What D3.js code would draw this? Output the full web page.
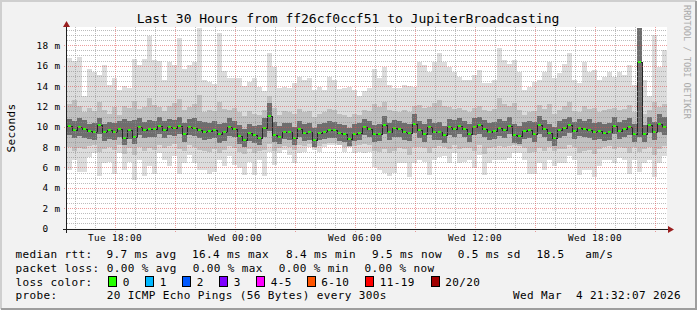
<!DOCTYPE html>
<html>
<head>
<meta charset="utf-8">
<script src="https://cdn.jsdelivr.net/npm/d3@7"></script>
<style>
body { margin: 0; background: #f2f2f2; }
svg { display: block; font-family: "DejaVu Sans Mono", monospace; }
text { white-space: pre; }
</style>
</head>
<body>
<script>
// 120 samples, 15 min apart, starting Tue 15:36 (values in ms)
var startTime = new Date(2026, 2, 3, 15, 36);
var stepMinutes = 15;

var maxRtt = [16.8,16.5,16.9,13.0,15.7,15.4,15.1,16.1,14.1,14.8, 13.6,14.0,13.8,16.7,16.1,16.7,18.9,16.6,16.5,14.6,
  16.4,16.1,18.7,15.7,16.1,16.4,19.7,14.6,14.4,14.2, 19.2,15.5,14.8,14.8,14.8,14.0,14.4,14.8,13.9,13.5,
  17.2,15.9,13.8,13.9,13.8,14.3,14.9,14.6,14.8,13.6, 13.9,13.6,14.9,14.6,13.7,13.8,13.9,13.6,13.0,13.5,
  13.8,15.7,14.8,15.9,14.1,13.8,13.8,14.1,14.0,13.9, 16.4,16.1,15.4,16.4,17.2,16.4,15.9,15.4,14.9,14.6,
  14.6,15.1,15.6,14.3,14.3,14.6,17.7,16.6,16.2,16.6, 15.4,13.6,13.9,14.4,14.6,15.4,16.4,14.8,15.3,16.2,
  17.2,14.6,14.3,16.4,15.4,15.6,14.6,14.9,15.4,14.9, 15.4,15.1,16.1,14.1,19.7,14.6,13.0,19.0,15.9,17.5];

var highQ = [12.2,12.6,12.0,11.4,11.8,11.5,12.4,11.6,11.3,11.9, 11.2,12.0,11.8,12.5,11.7,11.9,12.8,12.1,11.9,11.5,
  12.0,12.3,12.7,11.6,11.9,12.2,13.1,11.4,11.6,11.5, 12.4,11.7,11.6,11.8,11.4,11.1,11.5,11.3,11.2,11.6,
  13.0,11.8,11.2,11.5,11.4,11.3,11.7,11.4,11.5,11.0, 11.3,11.4,11.7,11.6,11.3,11.2,11.0,11.3,11.2,11.6,
  11.5,12.2,11.9,12.4,11.6,11.5,11.4,11.6,11.4,12.0, 12.1,11.8,11.9,12.3,12.6,12.0,11.9,11.7,11.8,11.6,
  11.4,11.8,12.0,11.6,11.5,11.7,12.8,12.2,12.0,12.3, 11.6,11.2,11.4,11.5,12.1,11.7,12.2,11.3,11.6,12.0,
  12.4,11.5,11.4,12.0,11.7,11.8,11.4,11.6,11.7,11.8, 11.6,11.7,12.1,11.4,19.7,11.3,11.6,12.4,11.9,12.2];

var highCore = [10.8,10.6,10.9,10.7,10.3,10.4,10.9,10.3,10.5,10.4, 10.6,10.8,10.6,10.7,10.9,10.5,10.7,10.6,11.0,10.6,
  10.8,10.7,11.0,10.4,10.8,10.9,10.6,10.5,10.4,10.6, 10.3,10.4,10.9,10.6,10.2,9.8,10.3,10.1,10.2,10.9,
  12.3,10.5,10.1,10.4,10.4,10.0,10.6,10.3,10.4,9.9, 10.3,10.4,10.6,10.5,10.3,10.2,9.9,10.3,10.4,10.8,
  10.6,10.2,10.3,11.1,10.4,10.7,10.6,10.4,10.3,11.3, 10.6,10.3,10.8,10.4,10.5,10.1,10.8,10.7,10.9,10.6,
  10.3,10.9,11.0,10.7,10.4,10.5,10.8,10.6,11.0,10.3, 10.1,10.5,10.6,10.5,11.1,10.7,10.3,10.0,10.6,10.8,
  11.0,10.5,10.8,10.6,10.8,10.4,10.5,10.3,10.4,11.0, 10.5,10.7,10.9,10.3,19.7,10.2,11.0,10.5,11.3,11.0];

var medianRtt = [10.1,9.7,10.0,9.8,9.6,9.5,10.2,9.5,9.7,9.5, 9.8,8.9,9.7,9.0,10.0,9.7,9.8,9.8,10.1,9.7,
  10.0,9.9,10.1,9.3,10.0,9.9,9.7,9.5,9.6,9.7, 9.3,9.5,10.0,9.8,9.1,8.7,9.4,9.2,8.9,9.9,
  11.1,9.2,9.0,9.5,9.5,8.9,9.8,9.4,9.5,8.7, 9.4,9.5,9.7,9.7,9.4,9.3,8.8,9.3,9.4,10.0,
  9.8,9.3,9.3,10.2,9.5,9.9,9.8,9.5,9.4,10.3, 9.7,9.3,10.0,9.5,9.5,9.2,10.0,9.8,10.1,9.8,
  9.3,10.0,10.2,9.8,9.5,9.6,9.9,9.7,10.1,9.2, 9.1,9.6,9.7,9.3,10.2,9.8,9.4,8.9,9.7,9.9,
  10.2,9.6,9.9,9.8,9.7,9.5,9.6,9.4,9.5,10.1, 9.6,9.8,10.0,9.3,16.4,9.3,10.2,9.5,10.3,10.0];

var lowCore = [9.2,8.9,9.1,8.9,8.8,8.7,9.3,8.6,8.8,8.7, 9.0,8.2,8.8,8.3,9.2,8.9,9.0,9.0,9.3,8.9,
  9.2,9.1,9.3,8.5,9.2,9.1,8.9,8.7,8.8,8.9, 8.4,8.6,9.1,9.0,8.3,8.0,8.6,8.4,8.2,9.0,
  9.6,8.5,8.3,8.8,8.7,8.2,9.0,8.6,8.7,8.0, 8.7,8.8,8.9,8.9,8.6,8.5,8.1,8.6,8.7,9.2,
  9.0,8.5,8.6,9.3,8.7,9.0,9.0,8.7,8.6,9.4, 8.9,8.5,9.2,8.7,8.7,8.4,9.2,9.0,9.3,9.0,
  8.5,9.2,9.3,9.0,8.7,8.8,9.1,8.9,9.3,8.4, 8.3,8.8,8.9,8.5,9.3,9.0,8.6,8.1,8.9,9.1,
  9.4,8.8,9.1,9.0,8.9,8.7,8.8,8.6,8.7,9.3, 8.8,9.0,9.2,8.5,9.0,8.5,9.4,8.7,9.5,9.2];

var lowQ = [8.0,7.6,7.9,7.8,8.1,8.2,7.5,7.8,8.0,7.7, 8.2,7.3,7.9,7.2,8.0,7.6,7.9,7.7,8.2,7.9,
  8.1,8.3,7.8,7.6,8.2,8.0,7.7,7.6,7.5,7.8, 7.4,7.7,8.1,7.9,7.5,7.3,7.8,7.4,7.6,7.7,
  8.3,7.6,7.9,8.1,8.0,7.7,8.2,8.1,8.3,8.0, 8.1,8.3,8.4,8.4,8.2,8.0,8.0,8.1,8.2,8.3,
  8.2,7.6,7.5,7.8,7.4,7.6,7.9,7.8,7.2,8.0, 8.0,7.9,7.4,7.9,8.1,8.0,7.8,8.2,7.8,7.9,
  7.9,7.6,8.2,7.3,7.9,8.0,8.1,8.0,8.1,8.2, 8.1,7.9,7.4,7.5,7.9,7.6,8.0,7.6,7.8,7.8,
  8.2,8.0,7.4,7.6,7.7,7.3,7.8,8.0,8.1,7.8, 8.0,7.9,7.4,8.0,7.5,7.8,8.0,7.2,7.8,8.1];

var minRtt = [5.7,6.7,5.6,5.6,7.0,7.4,5.2,6.4,6.5,5.4, 7.4,5.7,6.5,4.8,6.7,5.2,6.1,5.4,7.4,6.7,
  6.1,7.1,5.4,6.4,7.2,6.4,5.7,5.7,5.4,5.6, 6.7,6.1,7.1,6.2,5.9,5.3,6.5,5.3,6.7,5.2,
  7.5,6.2,7.4,7.7,7.2,6.4,7.4,7.5,8.0,7.7, 7.5,8.0,8.2,8.2,8.2,7.5,8.2,7.4,7.5,7.4,
  7.5,6.0,5.7,5.5,5.2,5.5,6.4,6.4,5.1,6.4, 6.7,6.5,5.3,6.7,7.0,7.1,6.4,7.4,6.4,6.5,
  6.7,5.9,7.2,5.3,6.4,6.7,6.7,6.7,6.9,7.4, 7.4,6.7,5.4,5.4,6.4,5.7,6.7,6.1,6.4,6.4,
  7.1,6.7,5.3,5.7,5.7,5.1,6.1,6.7,6.7,6.4, 6.9,6.7,5.4,6.7,5.6,6.4,6.7,5.1,6.4,7.1];

var yMajorTicks = [0, 2, 4, 6, 8, 10, 12, 14, 16, 18];
var lossLabels = ["0", "1", "2", "3", "4-5", "6-10", "11-19", "20/20"];
var lossColors = ["#26ff00", "#00b8ff", "#0059ff", "#7e00ff", "#ff00ff", "#ff5500", "#ff0000", "#a10000"];
var lossBoxX = [108.5, 145.5, 182.5, 219.5, 256.5, 307, 365.5, 431];

var svgWidth = 697, svgHeight = 310;
var margin = {top: 27, right: 30, bottom: 81.5, left: 67};
var n = medianRtt.length;
var timeAt = function(i) { return d3.timeMinute.offset(startTime, i * stepMinutes); };

var svg = d3.select("body").append("svg").attr("width", svgWidth).attr("height", svgHeight);

// frame
svg.append("rect").attr("width", svgWidth).attr("height", svgHeight).attr("fill", "#f2f2f2");
svg.append("path").attr("d", "M1,309V1H696").attr("fill", "none").attr("stroke", "#cfcfcf").attr("stroke-width", 2);
svg.append("path").attr("d", "M1,309H696V1").attr("fill", "none").attr("stroke", "#9e9e9e").attr("stroke-width", 2);

var x = d3.scaleTime().domain([startTime, timeAt(n)]).range([margin.left, svgWidth - margin.right]);
var y = d3.scaleLinear().domain([0, 19.8]).range([svgHeight - margin.bottom, margin.top]);

// canvas
svg.append("rect").attr("x", x.range()[0]).attr("y", y.range()[1])
  .attr("width", x.range()[1] - x.range()[0]).attr("height", y.range()[0] - y.range()[1]).attr("fill", "#ffffff");

// smoke
var bands = [
  {lo: minRtt, hi: maxRtt, color: "#dcdcdc"},
  {lo: lowQ, hi: highQ, color: "#c0c0c0"},
  {lo: lowCore, hi: highCore, color: "#6e6e6e"}
];
var smoke = svg.append("g").attr("shape-rendering", "crispEdges");
bands.forEach(function(b) {
  smoke.selectAll(null).data(d3.range(n)).enter().append("rect")
    .attr("x", function(i) { return x(timeAt(i)); })
    .attr("width", function(i) { return x(timeAt(i + 1)) - x(timeAt(i)); })
    .attr("y", function(i) { return y(b.hi[i]); })
    .attr("height", function(i) { return y(b.lo[i]) - y(b.hi[i]); })
    .attr("fill", b.color);
});

// median
var medLine = d3.line()
  .x(function(i) { return x(timeAt(i)); })
  .y(function(i) { return Math.round(y(medianRtt[Math.min(i, n - 1)])) + 0.5; })
  .curve(d3.curveStepAfter);
svg.append("path").datum(d3.range(n + 1)).attr("d", medLine)
  .attr("fill", "none").attr("stroke", "#262626").attr("stroke-width", 1)
  .attr("shape-rendering", "crispEdges");
svg.append("g").attr("shape-rendering", "crispEdges")
  .selectAll("rect").data(d3.range(n)).enter().append("rect")
  .attr("x", function(i) { return Math.round(x(timeAt(i))) + 1; })
  .attr("width", 3)
  .attr("y", function(i) { return Math.round(y(medianRtt[i])) - 1; })
  .attr("height", 2)
  .attr("fill", lossColors[0]);

// grid on top (rrdtool default colours)
var grid = svg.append("g").attr("stroke-dasharray", "1,1").attr("shape-rendering", "crispEdges");
var minorTimes = x.ticks(d3.timeHour.every(1));
var majorTimes = x.ticks(d3.timeHour.every(3));
var labelTimes = x.ticks(d3.timeHour.every(6));
var minorColor = "rgba(143,143,143,0.6)", majorColor = "rgba(222,79,79,0.55)";
grid.selectAll(null).data(d3.range(0.5, 19.8, 0.5).filter(function(v) { return v % 2 !== 0; })).enter().append("line")
  .attr("x1", x.range()[0]).attr("x2", x.range()[1])
  .attr("y1", function(v) { return Math.round(y(v)) + 0.5; }).attr("y2", function(v) { return Math.round(y(v)) + 0.5; })
  .attr("stroke", minorColor);
grid.selectAll(null).data(minorTimes.filter(function(t) { return t.getHours() % 3 !== 0; })).enter().append("line")
  .attr("x1", function(t) { return Math.round(x(t)) + 0.5; }).attr("x2", function(t) { return Math.round(x(t)) + 0.5; })
  .attr("y1", y.range()[1]).attr("y2", y.range()[0] + 2)
  .attr("stroke", minorColor);
grid.selectAll(null).data(yMajorTicks.slice(1)).enter().append("line")
  .attr("x1", x.range()[0] - 3).attr("x2", x.range()[1])
  .attr("y1", function(v) { return Math.round(y(v)) + 0.5; }).attr("y2", function(v) { return Math.round(y(v)) + 0.5; })
  .attr("stroke", majorColor);
grid.selectAll(null).data(majorTimes).enter().append("line")
  .attr("x1", function(t) { return Math.round(x(t)) + 0.5; }).attr("x2", function(t) { return Math.round(x(t)) + 0.5; })
  .attr("y1", y.range()[1]).attr("y2", y.range()[0] + 3)
  .attr("stroke", majorColor);

// axes
var axisY0 = Math.round(y(0)) + 0.5;
svg.append("line").attr("x1", x.range()[0] - 4).attr("x2", 669).attr("y1", axisY0).attr("y2", axisY0)
  .attr("stroke", "#1f1f1f").attr("shape-rendering", "crispEdges");
svg.append("line").attr("x1", 66.5).attr("x2", 66.5).attr("y1", axisY0 + 3).attr("y2", 24)
  .attr("stroke", "#1f1f1f").attr("shape-rendering", "crispEdges");
svg.append("path").attr("d", "M668," + (axisY0 - 3.5) + "L674," + axisY0 + "L668," + (axisY0 + 3.5) + "Z").attr("fill", "#9a1f1f");
svg.append("path").attr("d", "M63,27L66.5,21L70,27Z").attr("fill", "#9a1f1f");

// tick labels
svg.selectAll(null).data(yMajorTicks).enter().append("text")
  .attr("x", 60.5).attr("y", function(v) { return y(v) + 3.5; })
  .attr("text-anchor", "end").attr("font-size", "9.4px").attr("letter-spacing", "0.35px")
  .text(function(v) { return v === 0 ? "0  " : v + " m"; });
var fmt = d3.timeFormat("%a %H:%M");
svg.selectAll(null).data(labelTimes).enter().append("text")
  .attr("x", function(t) { return x(t); }).attr("y", 241)
  .attr("text-anchor", "middle").attr("font-size", "9.4px").attr("letter-spacing", "0.35px")
  .text(function(t) { return fmt(t); });

// titles
svg.append("text").attr("x", 348).attr("y", 23).attr("text-anchor", "middle").attr("font-size", "13px")
  .text("Last 30 Hours from ff26cf0ccf51 to JupiterBroadcasting");
svg.append("text").attr("transform", "translate(14.5,128)rotate(-90)").attr("text-anchor", "middle")
  .attr("font-size", "11px").attr("letter-spacing", "0.38px").text("Seconds");
svg.append("text").attr("transform", "translate(684,5)rotate(90)").attr("font-size", "8.6px")
  .attr("fill", "#aaaaaa").text("RRDTOOL / TOBI OETIKER");

// legend
var legendRows = [
  [[15.5, "median rtt:"], [106.5, "9.7 ms avg"], [192, "16.4 ms max"], [286, "8.4 ms min"], [372, "9.5 ms now"], [457.7, "0.5 ms sd"], [536.5, "18.5"], [585.3, "am/s"]],
  [[15.5, "packet loss:"], [106.7, "0.00 % avg"], [192.7, "0.00 % max"], [278.7, "0.00 % min"], [364.4, "0.00 % now"]],
  [[15.5, "loss color:"]],
  [[15.5, "probe:"], [106.7, "20 ICMP Echo Pings (56 Bytes) every 300s"]]
];
var rowY = [258, 271.8, 285.6, 299.4];
var legend = svg.append("g").attr("font-size", "11px").attr("letter-spacing", "0.38px");
legendRows.forEach(function(row, r) {
  row.forEach(function(item) {
    legend.append("text").attr("x", item[0]).attr("y", rowY[r]).text(item[1]);
  });
});
legend.append("text").attr("x", 681).attr("y", rowY[3]).attr("text-anchor", "end").text("Wed Mar  4 21:32:07 2026");
lossLabels.forEach(function(lab, k) {
  legend.append("rect").attr("x", lossBoxX[k]).attr("y", 276.5).attr("width", 8).attr("height", 10)
    .attr("fill", lossColors[k]).attr("stroke", "#000").attr("shape-rendering", "crispEdges");
  legend.append("text").attr("x", lossBoxX[k] + 14.3).attr("y", rowY[2]).text(lab);
});
</script>
</body>
</html>
